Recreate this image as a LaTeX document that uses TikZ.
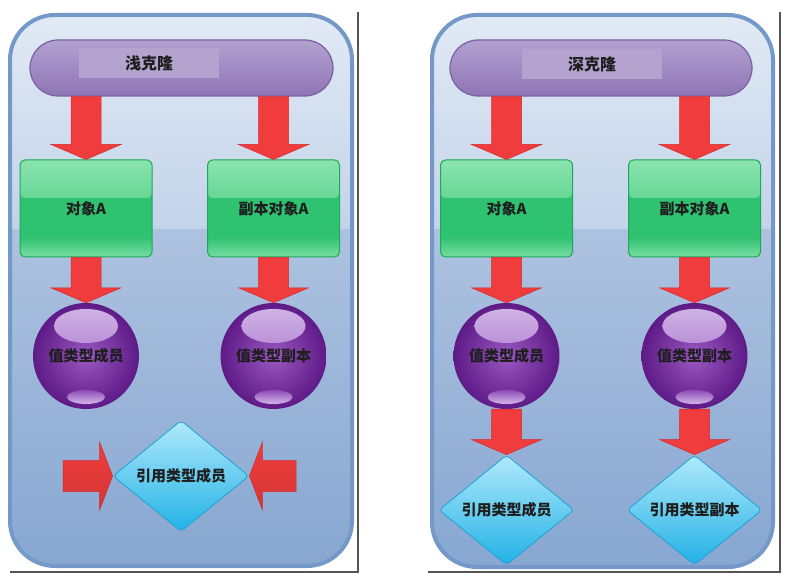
\documentclass[tikz,border=0pt]{standalone}
\usepackage{fontspec}
\newfontfamily\cjk{Noto Sans CJK SC}
\usetikzlibrary{shapes.geometric,calc}
\definecolor{pborder}{HTML}{7499C9}
\definecolor{ptop}{HTML}{E1EAF5}
\definecolor{pmid}{HTML}{C3D3E9}
\definecolor{plow}{HTML}{ADC2E0}
\definecolor{pbot}{HTML}{87A7D1}
\definecolor{gmain}{HTML}{2FC271}
\definecolor{glight}{HTML}{8AE4AE}
\definecolor{gborder}{HTML}{1EA85A}
\definecolor{smain}{HTML}{9A58C2}
\definecolor{sout}{HTML}{5E1A86}
\definecolor{shi}{HTML}{D3B8E8}
\definecolor{dtop}{HTML}{B0E9FB}
\definecolor{dmid}{HTML}{4CC8F0}
\definecolor{dbot}{HTML}{22B2E6}
\definecolor{dborder}{HTML}{1BA3D6}
\definecolor{rmain}{HTML}{F03C3C}
\definecolor{rlight}{HTML}{FF8C8C}
\definecolor{rborder}{HTML}{D52A2A}
\definecolor{pilltop}{HTML}{B3A1D1}
\definecolor{pillbot}{HTML}{8E75B5}
\definecolor{pillborder}{HTML}{7A5FA4}
\definecolor{labfill}{HTML}{B4A3CF}
\definecolor{txtc}{HTML}{1E1E1E}
\definecolor{shadowc}{HTML}{555555}
\tikzset{
  txt/.style={text=txtc, font=\cjk\bfseries\fontsize{15pt}{17pt}\selectfont},
  pill/.style={rectangle, rounded corners=28pt, minimum height=56pt, inner sep=0pt,
    top color=pilltop, bottom color=pillbot, draw=pillborder, line width=1.2pt},
  labbox/.style={rectangle, fill=labfill, minimum width=140pt, minimum height=30pt, inner sep=0pt,
    text=txtc, font=\cjk\bfseries\fontsize{16pt}{18pt}\selectfont},
  gbox/.style={rectangle, rounded corners=5pt, draw=gborder, line width=1pt, fill=gmain,
    minimum width=132pt, minimum height=97pt, inner sep=0pt, txt,
    path picture={
      \shade[top color=glight, bottom color=gmain] (path picture bounding box.north west) rectangle ([yshift=-38pt]path picture bounding box.north east);
      \shade[top color=gmain, bottom color=glight!80!gmain] ([yshift=20pt]path picture bounding box.south west) rectangle (path picture bounding box.south east);
    }},
  sphere/.style={circle, minimum size=106pt, inner sep=0pt, txt,
    inner color=smain, outer color=sout,
    path picture={
      \shade[top color=shi, bottom color=smain!90!sout] ([yshift=30pt]path picture bounding box.center) ellipse (32pt and 17pt);
      \shade[top color=smain!80!sout, bottom color=shi] ([yshift=-41pt]path picture bounding box.center) ellipse (19pt and 7pt);
    }},
  dia/.style={diamond, shape aspect=1.22, minimum width=136pt, minimum height=111pt, inner sep=0pt,
    rounded corners=4pt, top color=dtop, middle color=dmid, bottom color=dbot, draw=dborder, line width=0.8pt, txt},
  redv/.style={left color=rmain, middle color=rlight, right color=rmain, draw=rborder, line width=0.5pt},
  redh/.style={top color=rmain, middle color=rlight, bottom color=rmain!88!black, draw=rborder, line width=0.5pt},
}
% vertical block arrow: #1 start (top), #2 tip (bottom)
\newcommand\blkdown[2]{%
  \path[redv] let \p1=(#1), \p2=(#2) in
    (\x2-15pt,\y1) -- (\x2+15pt,\y1) -- (\x2+15pt,\y2+15pt) -- (\x2+35pt,\y2+15pt)
    -- (\x2,\y2) -- (\x2-35pt,\y2+15pt) -- (\x2-15pt,\y2+15pt) -- cycle;}
% horizontal block arrow: #1 start, #2 tip, #3 direction (1 right, -1 left)
\newcommand\blkh[3]{%
  \path[redh] let \p1=(#1), \p2=(#2) in
    (\x1,\y2+15.5pt) -- (\x2-#3*13pt,\y2+15.5pt) -- (\x2-#3*13pt,\y2+34pt) -- (\x2,\y2)
    -- (\x2-#3*13pt,\y2-34pt) -- (\x2-#3*13pt,\y2-15.5pt) -- (\x1,\y2-15.5pt) -- cycle;}
% panel background
\newcommand\panel[4]{%
  \begin{scope}
    \clip[rounded corners=45pt] (#1,#2) rectangle (#3,#4);
    \shade[top color=ptop, bottom color=pmid] (#1,#2) rectangle (#3,230);
    \shade[top color=plow, bottom color=pbot] (#1,230) rectangle (#3,#4);
  \end{scope}
  \draw[rounded corners=45pt, draw=pborder, line width=4pt] (#1,#2) rectangle (#3,#4);}
\begin{document}
\begin{tikzpicture}[x=1pt,y=-1pt]
\useasboundingbox (0,0) rectangle (800,585);
\fill[white] (0,0) rectangle (800,585);
% card shadows
\draw[shadowc, line width=1.8pt] (10,572) -- (358,572) -- (358,12);
\draw[shadowc, line width=1.8pt] (428,572) -- (780,572) -- (780,12);
% panels
\panel{10}{15}{352}{566}
\panel{432}{15}{773}{567}

% ---------- left: shallow clone ----------
\node[pill, minimum width=303pt] (pL) at (181.5,68) {};
\node[labbox] (tL) at (149,63) {浅克隆};
\node[gbox] (aL) at (86,208.5) {对象A};
\node[gbox] (bL) at (273.5,208.5) {副本对象A};
\node[sphere] (sL1) at (86,356) {值类型成员};
\node[sphere] (sL2) at (273.5,356) {值类型副本};
\node[dia] (dL) at (181,476) {引用类型成员};
\coordinate (hl) at (63,476);
\coordinate (hr) at (296,476);
\blkdown{pL.south -| aL.north}{aL.north}
\blkdown{pL.south -| bL.north}{bL.north}
\blkdown{aL.south}{sL1.north}
\blkdown{bL.south}{sL2.north}
\blkh{hl}{dL.west}{1}
\blkh{hr}{dL.east}{-1}

% ---------- right: deep clone ----------
\node[pill, minimum width=302pt] (pR) at (601,68) {};
\node[labbox] (tR) at (592,64) {深克隆};
\node[gbox] (aR) at (506.5,208.5) {对象A};
\node[gbox] (bR) at (694.5,208.5) {副本对象A};
\node[sphere] (sR1) at (506.5,356) {值类型成员};
\node[sphere] (sR2) at (694.5,356) {值类型副本};
\node[dia, minimum width=135pt, minimum height=110pt] (dR1) at (506.5,510) {引用类型成员};
\node[dia, minimum width=135pt, minimum height=110pt] (dR2) at (694.5,510) {引用类型副本};
\blkdown{pR.south -| aR.north}{aR.north}
\blkdown{pR.south -| bR.north}{bR.north}
\blkdown{aR.south}{sR1.north}
\blkdown{bR.south}{sR2.north}
\blkdown{sR1.south}{dR1.north}
\blkdown{sR2.south}{dR2.north}
\end{tikzpicture}
\end{document}
